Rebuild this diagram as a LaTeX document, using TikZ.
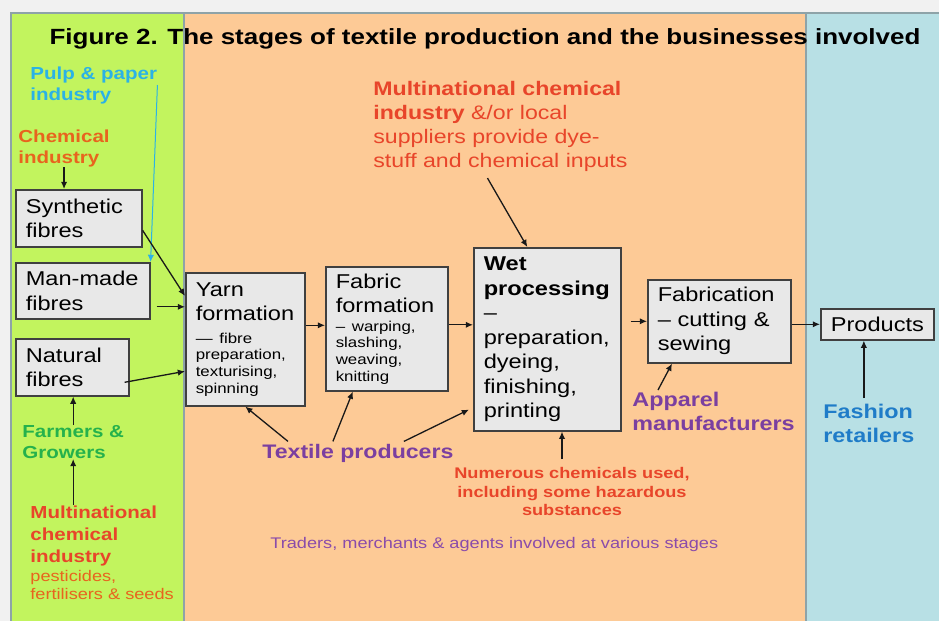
\documentclass[tikz,border=0pt]{standalone}
\usepackage{fontspec}
\setmainfont[FakeStretch=1.18]{Liberation Sans}
\usetikzlibrary{arrows.meta}
\hyphenpenalty=10000
\exhyphenpenalty=10000

\definecolor{fundo}{HTML}{F1F1F1}
\definecolor{verdepainel}{HTML}{C2F45E}
\definecolor{laranjapainel}{HTML}{FDCA96}
\definecolor{azulpainel}{HTML}{B8E0E5}
\definecolor{bordapainel}{HTML}{8EA3A8}
\definecolor{cinzacaixa}{HTML}{E8E8E8}
\definecolor{ciano}{HTML}{2BB2E6}
\definecolor{vermelho}{HTML}{E8452A}
\definecolor{laranja}{HTML}{E8641E}
\definecolor{roxo}{HTML}{7B3FA0}
\definecolor{roxoclaro}{HTML}{8A4CAA}
\definecolor{verde}{HTML}{25B14C}
\definecolor{azul}{HTML}{1F7CC8}

\newcommand{\tam}[2]{\fontsize{#1}{#2}\selectfont}

\begin{document}
\begin{tikzpicture}[x=0.5pt, y=-0.5pt,
    caixa/.style={draw=black!75, fill=cinzacaixa, line width=0.8pt, anchor=north west,
                  align=left, inner xsep=5pt, inner ysep=2pt, font=\tam{10}{12.25}},
    rotulo/.style={inner sep=0pt, anchor=north west, align=left},
    seta/.style={-{Latex[length=3.6pt,width=3.2pt]}, line width=0.65pt, black!90}]
    \useasboundingbox (0,0) rectangle (939,621);

    % Fundo e painéis
    \fill[fundo] (0,0) rectangle (939,621);
    \fill[verdepainel] (11,13) rectangle (184,621);
    \fill[laranjapainel] (184,13) rectangle (806,621);
    \fill[azulpainel] (806,13) rectangle (939,621);
    \draw[bordapainel, line width=0.8pt] (11,621) -- (11,13) -- (939,13);
    \draw[bordapainel, line width=0.8pt] (184,13) -- (184,621);
    \draw[bordapainel, line width=1pt] (806,13) -- (806,621);

    \node[font=\tam{11}{13}\bfseries, anchor=base] (titulo) at (485,44)
        {Figure 2. The stages of textile production and the businesses involved};

    % Painel 1: fibras
    \node[rotulo, text=ciano, font=\tam{8.7}{10.5}\bfseries] (celulose) at (30,66) {Pulp \& paper\\industry};
    \node[rotulo, text=laranja, font=\tam{8.7}{10.5}\bfseries] (quimica) at (18,129) {Chemical\\industry};
    \node[caixa, text width=53pt, minimum height=28.5pt] (sintetica) at (15,189) {Synthetic\\fibres};
    \node[caixa, text width=57pt, minimum height=28pt] (artificial) at (15,262) {\mbox{Man-made}\\fibres};
    \node[caixa, text width=46.5pt, minimum height=28.5pt] (natural) at (15,338) {Natural\\fibres};
    \node[rotulo, text=verde, font=\tam{8.7}{10.5}\bfseries] (agricultores) at (22,425) {Farmers \&\\Growers};
    \node[rotulo, text=vermelho, font=\tam{8.7}{11}\bfseries] (multiesq) at (30,505) {Multinational\\chemical\\industry};
    \node[rotulo, text=laranja, font=\tam{7.7}{9}] (pesticidas) at (30,570) {pesticides,\\fertilisers \& seeds};

    % Painel 2: etapas de produção
    \node[caixa, text width=49.5pt, minimum height=66.5pt] (fio) at (185,272)
        {Yarn\\formation\par\vspace{3pt}{\tam{7.15}{8.3}— fibre\\preparation,\\texturising,\\spinning\par}};
    \node[caixa, text width=51pt, minimum height=62pt] (tecido) at (325,266)
        {Fabric\\formation\par\vspace{1pt}{\tam{7.15}{8.3}– warping,\\slashing,\\weaving,\\knitting\par}};
    \node[caixa, text width=63.5pt, minimum height=91.5pt] (umido) at (473,247)
        {\textbf{Wet}\\\textbf{processing}\\–\\preparation,\\dyeing,\\finishing,\\printing};
    \node[caixa, text width=61.5pt, minimum height=41.5pt] (confeccao) at (647,279)
        {Fabrication\\– cutting \&\\sewing};

    \node[rotulo, text=vermelho, font=\tam{9.8}{12}] (multitopo) at (373,81)
        {\textbf{Multinational chemical}\\\textbf{industry} \&/or local\\suppliers provide dye-\\stuff and chemical inputs};
    \node[text=roxo, font=\tam{9.8}{12}\bfseries, inner sep=0pt, anchor=base west] (produtores) at (262,458) {Textile producers};
    \node[rotulo, text=roxo, font=\tam{9.9}{11.75}\bfseries] (vestuario) at (632,392) {Apparel\\manufacturers};
    \node[text=vermelho, font=\tam{7.7}{9.25}\bfseries, inner sep=0pt, anchor=north, align=center] (numerosos) at (572,467)
        {Numerous chemicals used,\\including some hazardous\\substances};
    \node[text=roxoclaro, font=\tam{7.7}{9.25}, inner sep=0pt, anchor=base west] (comerciantes) at (270,548)
        {Traders, merchants \& agents involved at various stages};

    % Painel 3: varejo
    \node[caixa, text width=46.5pt, minimum height=15.5pt, align=center] (produtos) at (820,308) {Products};
    \node[rotulo, text=azul, font=\tam{9.9}{12}\bfseries] (moda) at (823,404) {Fashion\\retailers};

    % Setas
    \draw[seta] (quimica.south) -- (quimica.south |- sintetica.north);
    \draw[seta, ciano, line width=0.5pt] (celulose.east) -- (artificial.north east);
    \draw[seta] ([yshift=-6pt]sintetica.east) -- ([yshift=-12pt]fio.north west);
    \draw[seta] ([xshift=3pt,yshift=-8pt]artificial.east) -- ([yshift=-8pt]artificial.east -| fio.west);
    \draw[seta] ([xshift=-2.5pt,yshift=-7.5pt]natural.east) -- ([yshift=-16pt]fio.west);
    \draw[seta] (agricultores.north) -- (agricultores.north |- natural.south);
    \draw[seta] (agricultores.south |- multiesq.north) -- (agricultores.south);

    \draw[seta] ([yshift=7pt]fio.east) -- ([yshift=7pt]fio.east -| tecido.west);
    \draw[seta] ([yshift=2pt]tecido.east) -- ([yshift=2pt]tecido.east -| umido.west);
    \draw[seta] ([xshift=4.5pt]umido.east |- confeccao.west) -- (confeccao.west);
    \draw[seta] (produtos.west -| confeccao.east) -- (produtos.west);

    \draw[seta] ([xshift=-6.5pt,yshift=-3pt]multitopo.south) -- ([xshift=-10pt]umido.north);
    \draw[seta] ([xshift=13pt,yshift=1pt]produtores.north west) -- (fio.south);
    \draw[seta] ([xshift=-12.5pt,yshift=1pt]produtores.north) -- ([xshift=-17pt]tecido.south);
    \draw[seta] ([xshift=-25pt,yshift=1pt]produtores.north east) -- ([xshift=-2pt,yshift=11pt]umido.south west);
    \draw[seta] ([xshift=13pt,yshift=1pt]vestuario.north west) -- ([xshift=12.5pt]confeccao.south west);
    \draw[seta] ([xshift=-5pt,yshift=4pt]numerosos.north) -- ([xshift=-5pt]numerosos.north |- umido.south);
    \draw[seta] ([xshift=-2.5pt,yshift=3pt]moda.north) -- ([xshift=-2.5pt]moda.north |- produtos.south);
\end{tikzpicture}
\end{document}
